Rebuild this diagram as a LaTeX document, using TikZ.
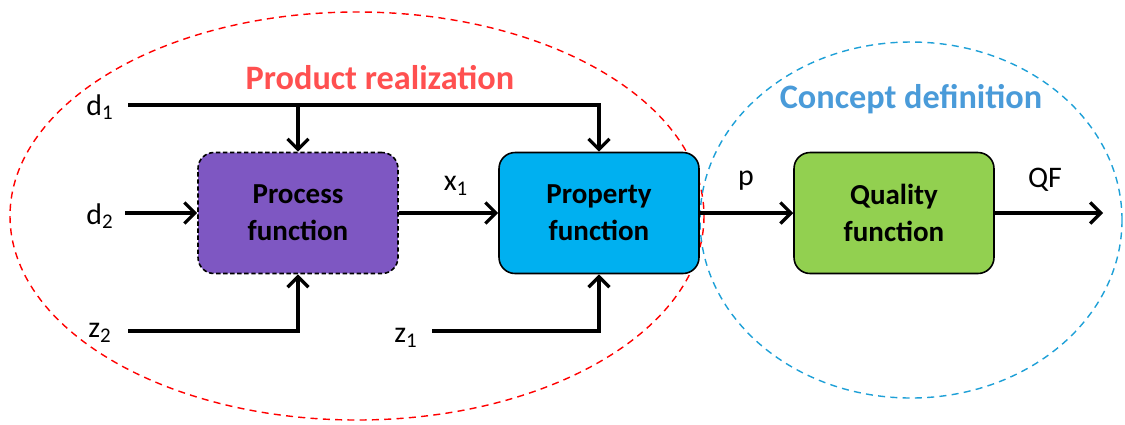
\documentclass[tikz,border=0pt]{standalone}
\usepackage{fontspec}
\setmainfont{Carlito}
\usetikzlibrary{arrows.meta}
\definecolor{procfill}{RGB}{126,87,194}
\definecolor{propfill}{RGB}{0,176,240}
\definecolor{qualfill}{RGB}{146,208,80}
\definecolor{redtitle}{RGB}{255,80,80}
\definecolor{bluetitle}{RGB}{74,155,217}
\definecolor{blueell}{RGB}{30,160,215}
\tikzset{
  fbox/.style={draw=black, line width=0.9pt, rounded corners=0.32cm, minimum width=4.0cm, minimum height=2.42cm, align=center, font=\fontsize{16.5}{21}\selectfont\bfseries, inner sep=0pt},
  flow/.style={line width=1.9pt, -{Straight Barb[length=6pt,width=12pt,line width=1.9pt]}},
  plain/.style={line width=1.9pt},
  lbl/.style={font=\fontsize{17}{20}\selectfont, inner sep=0pt},
  ell/.style={dashed, line width=0.8pt, dash pattern=on 4pt off 3pt}
}
\begin{document}
\begin{tikzpicture}[x=0.02cm,y=-0.02cm]
\useasboundingbox (0,0) rectangle (1125,424);
% ellipses
\draw[ell, draw=red] (357,216) ellipse [x radius=347, y radius=204];
\draw[ell, draw=blueell] (911,220) ellipse [x radius=211, y radius=178];
% titles
\node[font=\fontsize{19.5}{22}\selectfont\bfseries, text=redtitle] (t1) at (380,78) {Product realization};
\node[font=\fontsize{19.5}{22}\selectfont\bfseries, text=bluetitle] (t2) at (911,99) {Concept definition};
% boxes
\node[fbox, fill=procfill, dashed, dash pattern=on 2.5pt off 1.5pt] (proc) at (298,213) {Process\\function};
\node[fbox, fill=propfill] (prop) at (599,213) {Property\\function};
\node[fbox, fill=qualfill] (qual) at (894,213) {Quality\\function};
% labels
\node[lbl] (d1) at (100,107) {d\textsubscript{1}};
\node[lbl] (d2) at (100,216) {d\textsubscript{2}};
\node[lbl] (z2) at (100,333) {z\textsubscript{2}};
\node[lbl] (z1) at (406,338) {z\textsubscript{1}};
\node[lbl] (x1) at (456,186) {x\textsubscript{1}};
\node[lbl] (pl) at (746,181) {p};
\node[lbl] (qf) at (1045,180) {QF};
% coordinates
\coordinate (d1s) at (128,105);
\coordinate (d1a) at (298,105);
\coordinate (d1b) at (599,105);
\coordinate (d2s) at (125,213);
\coordinate (z2s) at (128,331);
\coordinate (z1s) at (432,331);
\coordinate (qfe) at (1103,213);
% connectors
\draw[plain] (d1s) -- (d1b);
\draw[flow] (d1a) -- (proc.north);
\draw[flow] ([yshift=0.95pt]d1b) -- (prop.north);
\draw[flow] (d2s) -- (proc.west);
\draw[flow] (z2s) -| (proc.south);
\draw[flow] (z1s) -| (prop.south);
\draw[flow] (proc.east) -- (prop.west);
\draw[flow] (prop.east) -- (qual.west);
\draw[flow] (qual.east) -- (qfe);
\end{tikzpicture}
\end{document}
